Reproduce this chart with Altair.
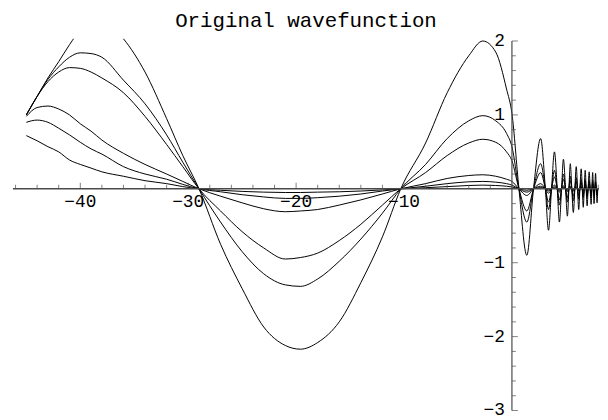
import altair as alt
import pandas as pd

# ---- data ----
X_MAIN = [-45.0, -44.0, -43.0, -42.0, -41.0, -40.0, -39.0, -38.0, -36.0, -34.0, -32.0, -30.5,
          -29.0, -27.0, -25.0, -23.0, -21.0, -19.6, -18.0, -16.0, -14.0, -12.0, -10.3,
          -8.0, -6.0, -4.0, -2.7, -1.5, -0.5, 0.0, 0.65]

C1_MAIN = [1.0, 1.25, 1.5, 1.72, 1.95, 2.15, 2.28, 2.3, 2.03, 1.58, 0.95, 0.45,
           0.0, -0.75, -1.35, -1.87, -2.12, -2.17, -2.08, -1.8, -1.27, -0.65, 0.0,
           0.62, 1.3, 1.8, 2.0, 1.85, 1.35, 1.02, 0.0]
C2_MAIN = [1.0, 1.25, 1.48, 1.65, 1.78, 1.84, 1.83, 1.78, 1.47, 1.15, 0.73, 0.36,
           0.0, -0.45, -0.85, -1.15, -1.3, -1.32, -1.22, -0.98, -0.68, -0.33, 0.0,
           0.33, 0.68, 0.92, 0.99, 0.92, 0.75, 0.57, 0.0]
C3_MAIN = [1.0, 1.25, 1.45, 1.58, 1.64, 1.63, 1.58, 1.5, 1.3, 0.98, 0.6, 0.3,
           0.0, -0.3, -0.58, -0.8, -0.95, -0.93, -0.87, -0.7, -0.48, -0.22, 0.0,
           0.22, 0.45, 0.62, 0.67, 0.63, 0.5, 0.38, 0.0]
C4_MAIN = [0.98, 1.1, 1.12, 1.08, 1.0, 0.88, 0.78, 0.66, 0.48, 0.33, 0.2, 0.1,
           0.0, -0.1, -0.19, -0.27, -0.31, -0.3, -0.28, -0.22, -0.15, -0.07, 0.0,
           0.07, 0.14, 0.18, 0.19, 0.17, 0.13, 0.1, 0.0]
C5_MAIN = [0.9, 0.93, 0.9, 0.82, 0.73, 0.63, 0.54, 0.47, 0.3, 0.2, 0.13, 0.06,
           0.0, -0.04, -0.08, -0.11, -0.13, -0.13, -0.12, -0.1, -0.07, -0.03, 0.0,
           0.035, 0.07, 0.095, 0.1, 0.09, 0.07, 0.05, 0.0]
C6_MAIN = [0.72, 0.65, 0.57, 0.5, 0.39, 0.33, 0.28, 0.23, 0.17, 0.11, 0.07, 0.03,
           0.0, -0.02, -0.035, -0.045, -0.05, -0.05, -0.045, -0.04, -0.03, -0.015, 0.0,
           0.015, 0.03, 0.045, 0.05, 0.045, 0.035, 0.025, 0.0]

X_OSC = [1.38, 2.0, 2.66, 3.1, 3.39, 3.67, 3.94, 4.2, 4.4, 4.6,
         4.77, 4.97, 5.14, 5.28, 5.41, 5.55, 5.69, 5.83, 5.96, 6.08,
         6.19, 6.3, 6.42, 6.52, 6.61, 6.7, 6.79, 6.88, 6.97, 7.06,
         7.16, 7.25, 7.34, 7.41, 7.48, 7.55, 7.61, 7.68, 7.75, 7.82,
         7.89, 7.95]
C1_OSC = [-0.9, 0, 0.68, 0, -0.56, 0, 0.5, 0, -0.45, 0,
          0.4, 0, -0.37, 0, 0.34, 0, -0.32, 0, 0.3, 0,
          -0.28, 0, 0.27, 0, -0.25, 0, 0.25, 0, -0.23, 0,
          0.23, 0, -0.21, 0, 0.22, 0, -0.2, 0, 0.21, 0,
          -0.19, 0]
C2_OSC = [-0.45, 0, 0.34, 0, -0.28, 0, 0.25, 0, -0.22, 0,
          0.2, 0, -0.18, 0, 0.17, 0, -0.16, 0, 0.15, 0,
          -0.14, 0, 0.13, 0, -0.12, 0, 0.12, 0, -0.11, 0,
          0.11, 0, -0.1, 0, 0.11, 0, -0.1, 0, 0.1, 0,
          -0.09, 0]
C3_OSC = [-0.3, 0, 0.22, 0, -0.18, 0, 0.16, 0, -0.15, 0,
          0.13, 0, -0.12, 0, 0.11, 0, -0.1, 0, 0.1, 0,
          -0.09, 0, 0.09, 0, -0.08, 0, 0.08, 0, -0.08, 0,
          0.08, 0, -0.07, 0, 0.07, 0, -0.07, 0, 0.07, 0,
          -0.06, 0]
C4_OSC = [-0.09, 0, 0.07, 0, -0.06, 0, 0.05, 0, -0.045, 0,
          0.04, 0, -0.037, 0, 0.034, 0, -0.032, 0, 0.03, 0,
          -0.028, 0, 0.027, 0, -0.025, 0, 0.025, 0, -0.023, 0,
          0.023, 0, -0.021, 0, 0.022, 0, -0.02, 0, 0.021, 0,
          -0.019, 0]
C5_OSC = [-0.045, 0, 0.035, 0, -0.03, 0, 0.025, 0, -0.022, 0,
          0.02, 0, -0.018, 0, 0.017, 0, -0.016, 0, 0.015, 0,
          -0.014, 0, 0.013, 0, -0.012, 0, 0.012, 0, -0.011, 0,
          0.011, 0, -0.01, 0, 0.011, 0, -0.01, 0, 0.01, 0,
          -0.01, 0]
C6_OSC = [-0.02, 0, 0.017, 0, -0.015, 0, 0.012, 0, -0.011, 0,
          0.01, 0, -0.009, 0, 0.008, 0, -0.008, 0, 0.007, 0,
          -0.007, 0, 0.007, 0, -0.006, 0, 0.006, 0, -0.006, 0,
          0.006, 0, -0.005, 0, 0.005, 0, -0.005, 0, 0.005, 0,
          -0.005, 0]

X_MAJOR = [-40, -30, -20, -10]
X_LABELS = ["\u221240", "\u221230", "\u221220", "\u221210"]
X_MINOR = [-46, -44, -42, -38, -36, -34, -32, -28, -26, -24, -22, -18, -16, -14, -12,
           -8, -6, -4, -2, 2, 4, 6, 8]
Y_MAJOR = [-3, -2, -1, 1, 2]
Y_LABELS = ["\u22123", "\u22122", "\u22121", "1", "2"]
Y_MINOR = [-2.8, -2.6, -2.4, -2.2, -1.8, -1.6, -1.4, -1.2, -0.8, -0.6, -0.4, -0.2,
           0.2, 0.4, 0.6, 0.8, 1.2, 1.4, 1.6, 1.8]

X_DOMAIN = [-46.24, 8.07]
Y_DOMAIN = [-3.02, 2.03]
X_AXIS_SPAN = [-46.24, 8.07]
Y_AXIS_SPAN = [-3.0, 2.0]

# ---- build table ----
rows = []
curves = [(C1_MAIN, C1_OSC), (C2_MAIN, C2_OSC), (C3_MAIN, C3_OSC),
          (C4_MAIN, C4_OSC), (C5_MAIN, C5_OSC), (C6_MAIN, C6_OSC)]
for cid, (m, o) in enumerate(curves):
    for xv, yv in zip(X_MAIN + X_OSC, m + o):
        rows.append({"curve": cid, "x": xv, "y": yv})
df = pd.DataFrame(rows)

xs = alt.Scale(domain=X_DOMAIN, nice=False, zero=False)
ys = alt.Scale(domain=Y_DOMAIN, nice=False, zero=False)
AX = "#4a4a4a"
FONT = "Liberation Mono"

lines = alt.Chart(df).mark_line(color="black", strokeWidth=1, interpolate="monotone", clip=True).encode(
    x=alt.X("x:Q", scale=xs, axis=None),
    y=alt.Y("y:Q", scale=ys, axis=None),
    detail="curve:N",
)

xaxis = alt.Chart(pd.DataFrame({"a": [X_AXIS_SPAN[0]], "b": [X_AXIS_SPAN[1]], "z": [0]})).mark_rule(
    color=AX, strokeWidth=1.4).encode(x=alt.X("a:Q", scale=xs), x2="b:Q", y=alt.Y("z:Q", scale=ys))
yaxis = alt.Chart(pd.DataFrame({"a": [Y_AXIS_SPAN[0]], "b": [Y_AXIS_SPAN[1]], "z": [0]})).mark_rule(
    color=AX, strokeWidth=1.2).encode(y=alt.Y("a:Q", scale=ys), y2="b:Q", x=alt.X("z:Q", scale=xs))

xmaj = alt.Chart(pd.DataFrame({"v": X_MAJOR, "z": 0})).mark_tick(
    orient="vertical", size=6, thickness=1, color=AX, yOffset=-3).encode(
    x=alt.X("v:Q", scale=xs), y=alt.Y("z:Q", scale=ys))
xmin = alt.Chart(pd.DataFrame({"v": X_MINOR, "z": 0})).mark_tick(
    orient="vertical", size=4, thickness=1, color=AX, yOffset=-2).encode(
    x=alt.X("v:Q", scale=xs), y=alt.Y("z:Q", scale=ys))
ymaj = alt.Chart(pd.DataFrame({"v": Y_MAJOR, "z": 0})).mark_tick(
    orient="horizontal", size=6, thickness=1, color=AX, xOffset=3).encode(
    y=alt.Y("v:Q", scale=ys), x=alt.X("z:Q", scale=xs))
ymin = alt.Chart(pd.DataFrame({"v": Y_MINOR, "z": 0})).mark_tick(
    orient="horizontal", size=4, thickness=1, color=AX, xOffset=2).encode(
    y=alt.Y("v:Q", scale=ys), x=alt.X("z:Q", scale=xs))

xlab = alt.Chart(pd.DataFrame({"v": X_MAJOR, "t": X_LABELS, "z": 0})).mark_text(
    font=FONT, fontSize=18, color="black", baseline="middle", align="center", dy=13).encode(
    x=alt.X("v:Q", scale=xs), y=alt.Y("z:Q", scale=ys), text="t:N")
ylab = alt.Chart(pd.DataFrame({"v": Y_MAJOR, "t": Y_LABELS, "z": 0})).mark_text(
    font=FONT, fontSize=18, color="black", baseline="middle", align="right", dx=-7).encode(
    y=alt.Y("v:Q", scale=ys), x=alt.X("z:Q", scale=xs), text="t:N")

chart = alt.layer(lines, xaxis, yaxis, xmaj, xmin, ymaj, ymin, xlab, ylab).properties(
    width=592, height=377,
    title=alt.TitleParams("Original wavefunction", font=FONT, fontSize=21, fontWeight="normal",
                          color="black", anchor="middle", offset=1),
    padding={"left": 4, "top": 0, "right": 0, "bottom": 0},
).configure_view(stroke=None)

chart.save("out.html", embed_options={"renderer": "svg", "actions": False})
